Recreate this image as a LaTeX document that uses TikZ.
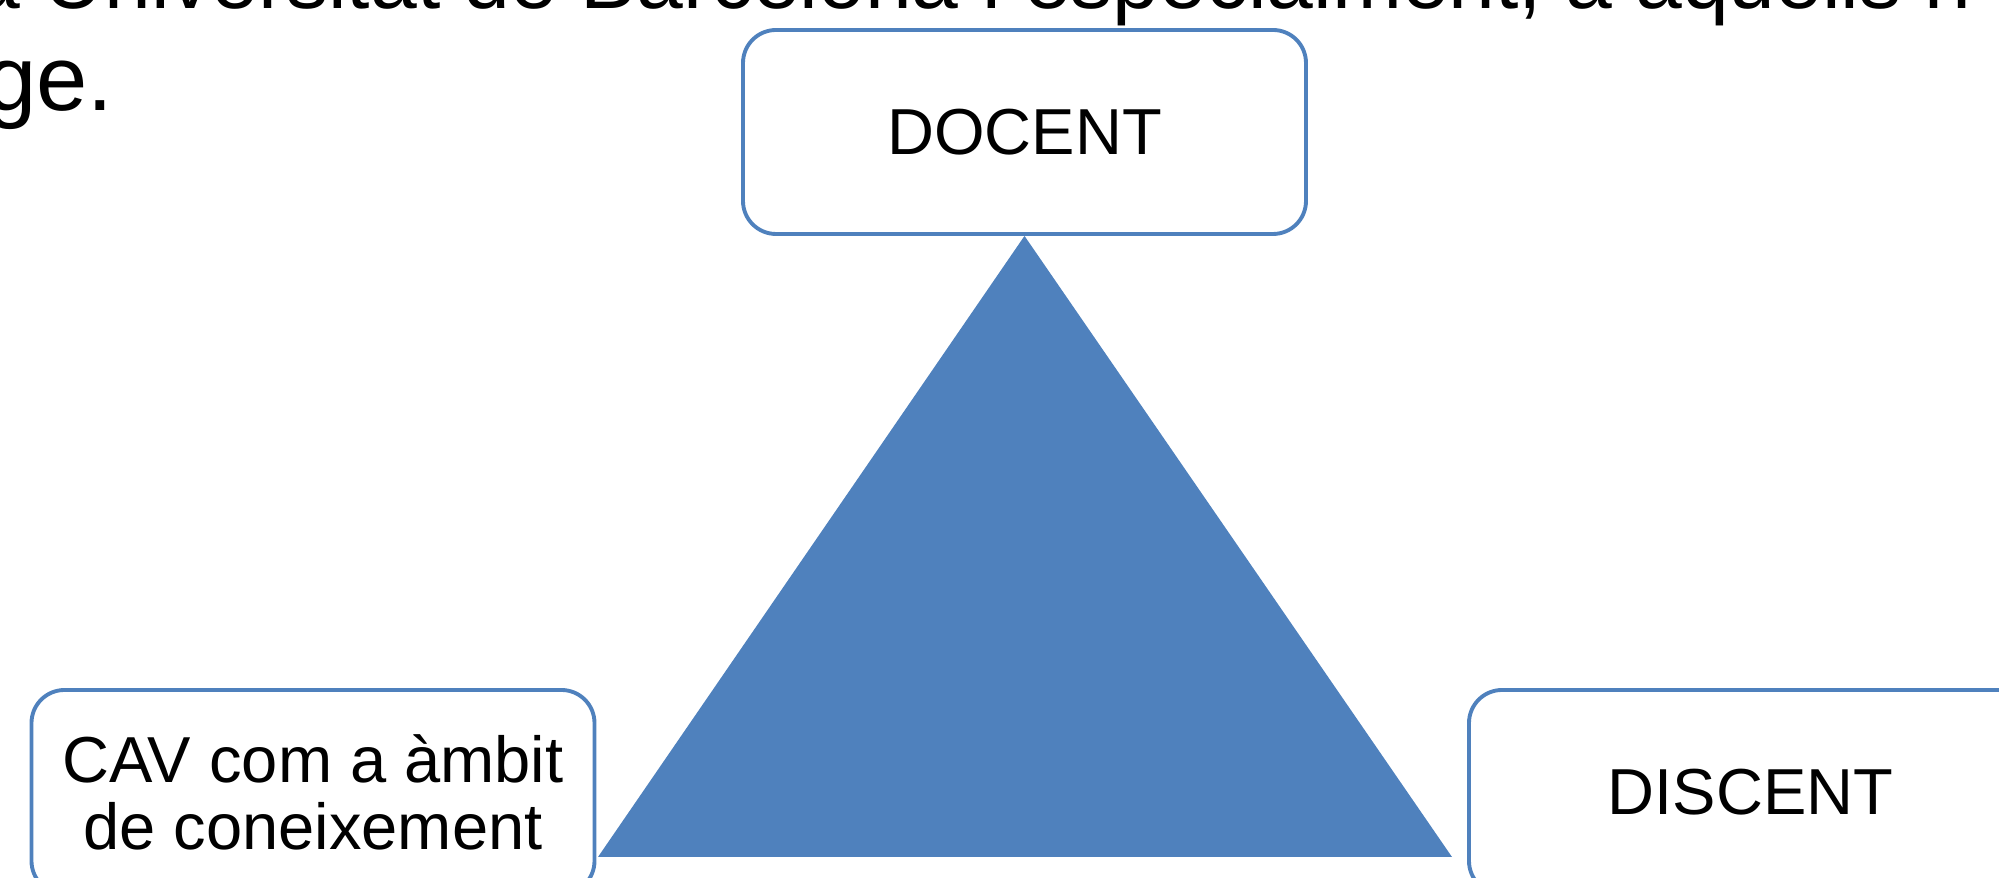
\documentclass[tikz,border=0pt]{standalone}
\usepackage{fontspec}
\setmainfont{Liberation Sans}
\definecolor{officeblue}{HTML}{4F81BD}

\begin{document}
\begin{tikzpicture}
        \tikzstyle{every node}=[inner sep=0pt, font=\fontsize{18.5pt}{19.1pt}\selectfont]
        \tikzstyle{rolebox}=[draw=officeblue, line width=1.1pt, rounded corners=0.33cm, fill=white, minimum width=5.63cm, minimum height=2.04cm, align=center]
        \tikzstyle{pagetext}=[anchor=base west]
        \useasboundingbox (0,0) rectangle (19.99,8.78);
        \clip (0,0) rectangle (19.99,8.78);
        % text of the page behind the figure
        \node[pagetext, font=\fontsize{23.9pt}{28pt}\selectfont] (line1) at (-0.27,8.69) {a Universitat de Barcelona i especialment, a aquells n};
        \node[anchor=base east, font=\fontsize{26.2pt}{30pt}\selectfont] (line2) at (1.14,7.67) {ge.};
        % the three roles
        \node[rolebox] (docent) at (10.245,7.46) {DOCENT};
        \node[rolebox] (cav) at (3.13,0.86) {CAV com a àmbit\\de coneixement};
        \node[rolebox] (discent) at (17.505,0.86) {DISCENT};
        \coordinate (baseL) at (5.98,0.21);
        \coordinate (baseR) at (14.52,0.21);
        \fill[officeblue] (docent.south) -- (baseL) -- (baseR) -- cycle;
    \end{tikzpicture}
\end{document}
